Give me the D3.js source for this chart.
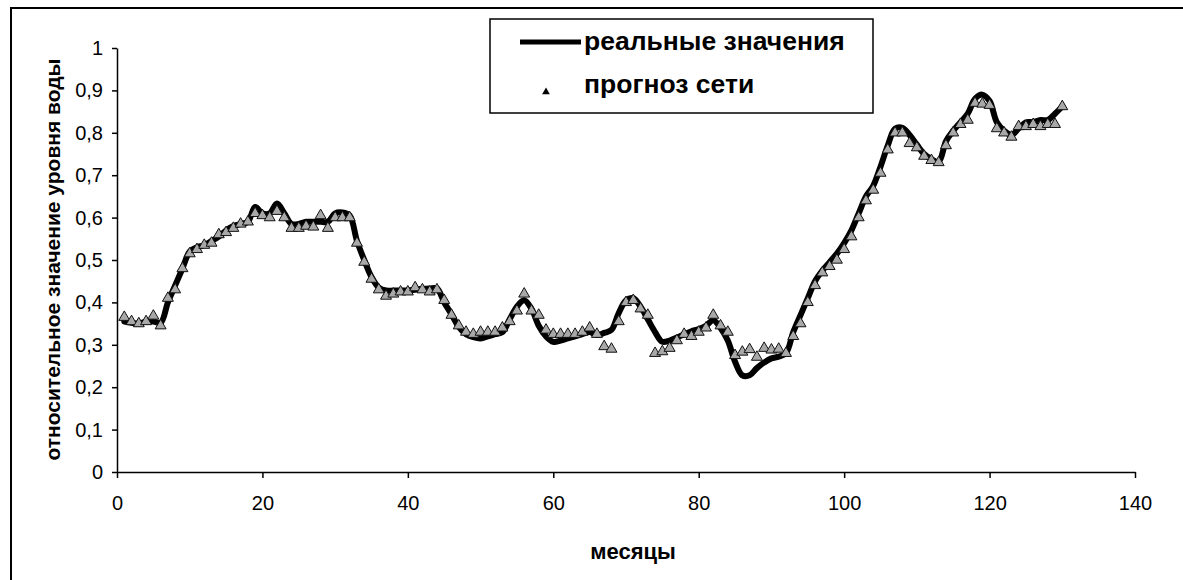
<!DOCTYPE html>
<html>
<head>
<meta charset="utf-8">
<script src="https://cdn.jsdelivr.net/npm/d3@7"></script>
<style>
  html, body { margin: 0; padding: 0; background: #fff; }
  svg { display: block; }
  text { font-family: Arial, "Liberation Sans", sans-serif; fill: #000; }
</style>
</head>
<body>
<svg id="chart" width="1183" height="580"></svg>
<script>
// Monthly relative water level: measured values and the network forecast
const months = d3.range(1, 131);

const realValues = [
  0.355, 0.352, 0.350, 0.355, 0.355, 0.352, 0.400, 0.440, 0.480, 0.520,
  0.530, 0.535, 0.545, 0.555, 0.570, 0.580, 0.585, 0.590, 0.625, 0.610,
  0.610, 0.633, 0.610, 0.585, 0.585, 0.590, 0.590, 0.590, 0.590, 0.610,
  0.612, 0.605, 0.545, 0.500, 0.460, 0.435, 0.428, 0.428, 0.428, 0.428,
  0.430, 0.432, 0.433, 0.433, 0.400, 0.372, 0.342, 0.325, 0.318, 0.315,
  0.320, 0.325, 0.330, 0.360, 0.390, 0.405, 0.385, 0.345, 0.320, 0.307,
  0.310, 0.315, 0.320, 0.325, 0.330, 0.323, 0.328, 0.335, 0.375, 0.405,
  0.410, 0.390, 0.360, 0.330, 0.307, 0.310, 0.317, 0.325, 0.332, 0.337,
  0.345, 0.358, 0.340, 0.310, 0.260, 0.228, 0.228, 0.245, 0.258, 0.268,
  0.272, 0.280, 0.330, 0.370, 0.410, 0.450, 0.475, 0.495, 0.515, 0.540,
  0.570, 0.610, 0.650, 0.675, 0.720, 0.770, 0.810, 0.812, 0.795, 0.772,
  0.750, 0.738, 0.732, 0.780, 0.805, 0.825, 0.845, 0.880, 0.890, 0.875,
  0.825, 0.805, 0.795, 0.810, 0.825, 0.825, 0.830, 0.830, 0.845, 0.862
];

const forecastValues = [
  0.365, 0.355, 0.350, 0.355, 0.368, 0.345, 0.410, 0.430, 0.480, 0.515,
  0.525, 0.535, 0.540, 0.560, 0.565, 0.575, 0.585, 0.590, 0.610, 0.605,
  0.600, 0.615, 0.600, 0.575, 0.575, 0.580, 0.578, 0.605, 0.575, 0.600,
  0.600, 0.600, 0.540, 0.495, 0.455, 0.430, 0.415, 0.420, 0.425, 0.425,
  0.435, 0.430, 0.425, 0.430, 0.405, 0.370, 0.345, 0.330, 0.325, 0.330,
  0.330, 0.330, 0.340, 0.355, 0.380, 0.420, 0.380, 0.370, 0.335, 0.325,
  0.325, 0.325, 0.325, 0.330, 0.340, 0.325, 0.296, 0.290, 0.355, 0.400,
  0.405, 0.385, 0.370, 0.280, 0.284, 0.292, 0.310, 0.325, 0.320, 0.330,
  0.340, 0.370, 0.345, 0.330, 0.275, 0.283, 0.289, 0.271, 0.292, 0.288,
  0.290, 0.280, 0.320, 0.350, 0.400, 0.440, 0.470, 0.485, 0.500, 0.525,
  0.555, 0.600, 0.640, 0.665, 0.705, 0.760, 0.800, 0.800, 0.775, 0.765,
  0.745, 0.735, 0.730, 0.770, 0.800, 0.820, 0.830, 0.870, 0.868, 0.865,
  0.810, 0.800, 0.790, 0.815, 0.815, 0.820, 0.815, 0.820, 0.820, 0.862
];

const xTicks = [0, 20, 40, 60, 80, 100, 120, 140];
const yTicks = [0, 0.1, 0.2, 0.3, 0.4, 0.5, 0.6, 0.7, 0.8, 0.9, 1];
const yTickLabels = ["0", "0,1", "0,2", "0,3", "0,4", "0,5", "0,6", "0,7", "0,8", "0,9", "1"];

const seriesNames = ["реальные значения", "прогноз сети"];
const xTitle = "месяцы";
const yTitle = "относительное значение уровня воды";

const svg = d3.select("#chart");

// Outer chart frame
svg.append("path")
  .attr("d", "M11,590 L11,8 L1190,8")
  .attr("fill", "none")
  .attr("stroke", "#000")
  .attr("stroke-width", 2);

const x = d3.scaleLinear().domain([0, 140]).range([117, 1135]);
const y = d3.scaleLinear().domain([0, 1]).range([472, 48]);

// Axes
const xAxis = d3.axisBottom(x)
  .tickValues(xTicks)
  .tickSize(6)
  .tickSizeOuter(0)
  .tickPadding(18)
  .tickFormat(d3.format("d"));

const yAxis = d3.axisLeft(y)
  .tickValues(yTicks)
  .tickSize(5)
  .tickSizeOuter(0)
  .tickPadding(9)
  .tickFormat((d, i) => yTickLabels[i]);

const gx = svg.append("g")
  .attr("transform", `translate(0,${y(0)})`)
  .call(xAxis);
const gy = svg.append("g")
  .attr("transform", `translate(${x(0)},0)`)
  .call(yAxis);

[gx, gy].forEach(g => {
  g.select(".domain").attr("stroke", "#000").attr("stroke-width", 1.5);
  g.selectAll(".tick line").attr("stroke", "#000").attr("stroke-width", 1.5);
  g.selectAll(".tick text")
    .attr("font-family", "Arial, 'Liberation Sans', sans-serif")
    .attr("font-size", 20)
    .attr("fill", "#000");
});

// Axis titles
svg.append("text")
  .attr("x", 633)
  .attr("y", 559)
  .attr("text-anchor", "middle")
  .attr("font-size", 22)
  .attr("font-weight", "bold")
  .text(xTitle);

svg.append("text")
  .attr("transform", `translate(60,${(57 + 462) / 2}) rotate(-90)`)
  .attr("text-anchor", "middle")
  .attr("font-size", 21)
  .attr("font-weight", "bold")
  .text(yTitle);

// Measured values: thick smoothed line
const lineData = months.map((m, i) => [m, realValues[i]]);
const line = d3.line()
  .x(d => x(d[0]))
  .y(d => y(d[1]))
  .curve(d3.curveCatmullRom.alpha(0.5));

svg.append("path")
  .datum(lineData)
  .attr("d", line)
  .attr("fill", "none")
  .attr("stroke", "#000")
  .attr("stroke-width", 6)
  .attr("stroke-linejoin", "round")
  .attr("stroke-linecap", "round");

// Forecast: triangle markers
const tri = d3.symbol().type(d3.symbolTriangle).size(52);
svg.append("g")
  .selectAll("path")
  .data(months.map((m, i) => [m, forecastValues[i]]))
  .join("path")
  .attr("transform", d => `translate(${x(d[0])},${y(d[1])})`)
  .attr("d", tri)
  .attr("fill", "#a8a8a8")
  .attr("stroke", "#111")
  .attr("stroke-width", 1);

// Legend
const legend = svg.append("g");
legend.append("rect")
  .attr("x", 490).attr("y", 19)
  .attr("width", 383).attr("height", 94)
  .attr("fill", "#fff")
  .attr("stroke", "#000")
  .attr("stroke-width", 1.5);
legend.append("line")
  .attr("x1", 520).attr("x2", 581)
  .attr("y1", 42).attr("y2", 42)
  .attr("stroke", "#000")
  .attr("stroke-width", 5);
legend.append("text")
  .attr("x", 584).attr("y", 50)
  .attr("font-size", 26.5)
  .attr("font-weight", "bold")
  .text(seriesNames[0]);
legend.append("path")
  .attr("transform", "translate(546,92)")
  .attr("d", d3.symbol().type(d3.symbolTriangle).size(26))
  .attr("fill", "#000");
legend.append("text")
  .attr("x", 584).attr("y", 93)
  .attr("font-size", 26.5)
  .attr("font-weight", "bold")
  .text(seriesNames[1]);
</script>
</body>
</html>
